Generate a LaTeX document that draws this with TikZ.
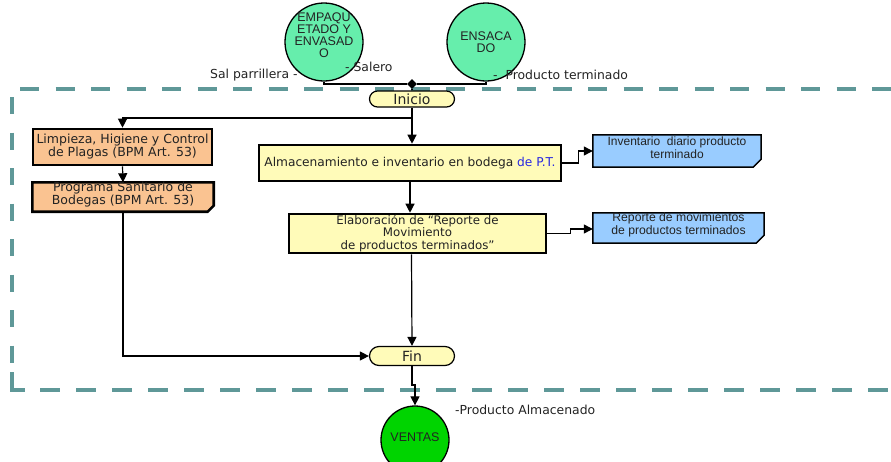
\documentclass[tikz,border=0pt]{standalone}
\usepackage{fontspec}
\setmainfont{DejaVu Sans}
\newfontfamily\arialf{Liberation Sans}
\usetikzlibrary{arrows.meta,shapes.misc,shapes.geometric,backgrounds,calc}
\definecolor{mint}{RGB}{102,238,172}
\definecolor{ventasg}{RGB}{0,212,0}
\definecolor{peach}{RGB}{250,195,145}
\definecolor{lyellow}{RGB}{255,251,185}
\definecolor{lblue}{RGB}{153,204,255}
\definecolor{framec}{RGB}{95,152,152}
\definecolor{ptblue}{RGB}{40,40,225}
\definecolor{txt}{RGB}{35,35,35}
\tikzset{
  circnode/.style={circle, draw=black, line width=1.3pt, minimum size=78pt, inner sep=0pt},
  circtext/.style={align=center, inner sep=0pt, text=txt, font=\arialf\fontsize{12.5}{12}\selectfont},
  lbl/.style={inner sep=0pt, text=txt, font=\fontsize{12.4}{13}\selectfont},
  term/.style={rounded rectangle, draw=black, line width=1.2pt, fill=lyellow, minimum width=85pt, inner sep=0pt, text=txt, font=\fontsize{14}{14}\selectfont},
  procbox/.style={rectangle, draw=black, line width=2.6pt, align=center, inner sep=0pt, text=txt, font=\fontsize{12.5}{13}\selectfont},
  docbox/.style={rectangle, inner sep=0pt},
  doctext/.style={align=center, inner sep=0pt, text=txt},
  conn/.style={line width=1.2pt, draw=black},
  arr/.style={conn, -{Triangle[length=9pt,width=9pt]}},
  frameline/.style={draw=framec, line width=4pt}
}
\newcommand{\docshape}[4]{% name, fill, border width, fold
  \begin{pgfonlayer}{background}
  \draw[fill=#2, line width=#3, draw=black, line join=miter]
    (#1.north west) -- (#1.north east) -- ([yshift=#4]#1.south east)
    -- ([xshift=-#4]#1.south east) -- (#1.south west) -- cycle;
  \draw[fill=black!75, line width=0.8pt]
    ([xshift=-#4]#1.south east) -- ([xshift=-0.35*#4,yshift=0.65*#4]#1.south east)
    -- ([yshift=#4]#1.south east) -- cycle;
  \end{pgfonlayer}}
\begin{document}
\begin{tikzpicture}[x=1pt,y=-1pt]
\useasboundingbox (0,0) rectangle (891,461);
\clip (0,0) rectangle (891,461);

% frame
\draw[frameline, dash pattern=on 19pt off 16.5pt] (20,89) -- (900,89);
\draw[frameline, dash pattern=on 17pt off 18.5pt] (12,97) -- (12,366);
\draw[frameline] (12,372) -- (12,390) -- (25,390);
\draw[frameline, dash pattern=on 20pt off 16pt] (40,390) -- (900,390);

% top circles
\node[circnode, fill=mint] (emp) at (324,42) {};
\node[circtext] (emptxt) at (324,35) {EMPAQU\\ETADO Y\\ENVASAD\\O};
\node[circnode, fill=mint] (ens) at (486,42) {};
\node[circtext] (enstxt) at (486,42) {ENSACA\\DO};
\node[diamond, fill=black, inner sep=0pt, minimum size=10pt] (J) at (412,84) {};

\node[lbl, anchor=west] (salp) at (210,75) {Sal parrillera -};
\node[lbl, anchor=west] (salero) at (345,67) {- Salero};
\node[lbl, anchor=west] (pterm) at (493,75) {-\ \ Producto terminado};

% terminals
\node[term, minimum height=16pt] (ini) at (412,99) {Inicio};
\node[term, minimum height=19pt] (fin) at (412,356) {Fin};

% left boxes
\node[procbox, fill=peach, minimum width=179pt, minimum height=36pt] (limp) at (122.5,147)
  {Limpieza, Higiene y Control\\de Plagas (BPM Art. 53)};
\node[docbox, minimum width=181pt, minimum height=29pt] (prog) at (123,197) {};
\docshape{prog}{peach}{2.6pt}{6pt}
\node[doctext, font=\fontsize{12.5}{12}\selectfont] (progtxt) at (123,194.5)
  {Programa Sanitario de\\Bodegas (BPM Art. 53)};

% main boxes
\node[procbox, fill=lyellow, minimum width=302pt, minimum height=36pt, font=\fontsize{12.2}{13}\selectfont] (alm) at (410,163)
  {Almacenamiento e inventario en bodega \textcolor{ptblue}{de P.T.}};
\node[procbox, fill=lyellow, minimum width=257pt, minimum height=39pt, font=\fontsize{11.8}{12.5}\selectfont] (elab) at (417.5,233.5)
  {Elaboración de “Reporte de\\Movimiento\\de productos terminados”};

% notes
\node[docbox, minimum width=168pt, minimum height=32pt] (n1) at (677,151) {};
\docshape{n1}{lblue}{1.5pt}{8pt}
\node[doctext, font=\arialf\fontsize{12}{13}\selectfont] (n1txt) at (677,147.5)
  {Inventario\ \ diario producto\\terminado};
\node[docbox, minimum width=171pt, minimum height=30pt] (n2) at (678.5,228) {};
\docshape{n2}{lblue}{1.5pt}{8pt}
\node[doctext, font=\arialf\fontsize{12.2}{13.5}\selectfont] (n2txt) at (678.5,225)
  {Reporte de movimientos\\de productos terminados};

% bottom
\node[circnode, fill=ventasg, minimum size=68pt] (ven) at (415,440) {};
\node[circtext] (ventxt) at (415,437) {VENTAS};
\node[lbl, anchor=west] (palm) at (455,410) {-Producto Almacenado};

% connectors
\draw[conn] (emp.south) -- (emp.south |- J) -- (J);
\draw[conn] (ens.south) -- (ens.south |- J) -- (J);
\draw[conn] (J) -- (ini.north);
\coordinate (B1) at (412,118);
\draw[conn] (ini.south) -- (B1);
\draw[arr] (B1) -| (limp.north);
\draw[arr] (B1) -- (B1 |- alm.north);
\draw[arr] (limp.south) -- (prog.north);
\draw[arr] (prog.south) |- (fin.west);
\draw[arr] (alm.east) -- ++(16,0) |- (n1.west);
\draw[arr] (elab.east) -- ++(23,0) |- ([yshift=-1pt]n2.west);
\draw[arr] (alm.south) -- (alm.south |- elab.north);
\draw[arr] ([xshift=-6pt]elab.south) -- (fin.north);
\coordinate (B2) at (412,385);
\draw[arr] (fin.south) -- (B2) -- (B2 -| ven.north) -- (ven.north);
\end{tikzpicture}
\end{document}
